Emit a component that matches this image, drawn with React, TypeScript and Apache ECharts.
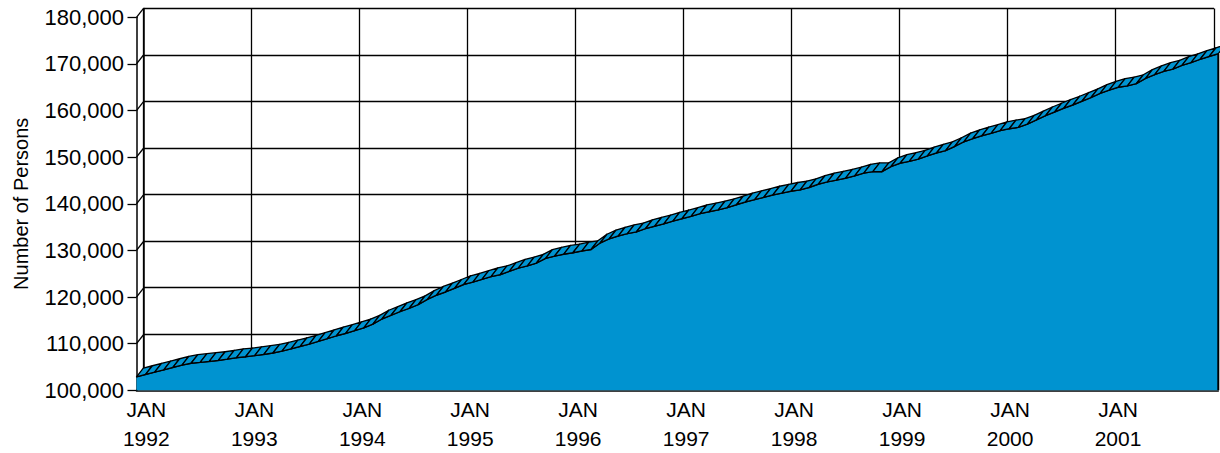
import React, { useEffect, useRef } from "react";
import * as echarts from "echarts";

// Monthly values, Jan 1992 .. Dec 2001 (number of persons)
const months: string[] = [];
for (let y = 1992; y <= 2001; y++) {
  for (let m = 1; m <= 12; m++) months.push(`${y}-${m < 10 ? "0" + m : m}`);
}

const values1992 = [102900, 103400, 103900, 104400, 104900, 105400, 105800, 106000, 106200, 106400, 106700, 107000];
const values1993 = [107200, 107450, 107700, 108000, 108400, 108900, 109400, 109900, 110500, 111100, 111700, 112200];
const values1994 = [112800, 113400, 114200, 115300, 116100, 116900, 117600, 118400, 119500, 120400, 121100, 121900];
const values1995 = [122700, 123200, 123800, 124400, 124800, 125500, 126200, 126700, 127300, 128300, 128800, 129200];
const values1996 = [129500, 129900, 130200, 131600, 132500, 133100, 133600, 134000, 134700, 135200, 135700, 136300];
const values1997 = [136800, 137300, 137900, 138300, 138700, 139200, 139800, 140400, 140900, 141400, 141900, 142300];
const values1998 = [142700, 143000, 143500, 144200, 144700, 145100, 145500, 146000, 146600, 146900, 146900, 148000];
const values1999 = [148700, 149100, 149600, 150300, 150900, 151400, 152300, 153300, 154000, 154600, 155100, 155700];
const values2000 = [156100, 156400, 157100, 158000, 158900, 159700, 160500, 161200, 162000, 162800, 163700, 164400];
const values2001 = [165000, 165300, 165800, 166900, 167700, 168400, 168900, 169700, 170300, 171000, 171600, 172200];

const persons: number[] = [
  ...values1992, ...values1993, ...values1994, ...values1995, ...values1996,
  ...values1997, ...values1998, ...values1999, ...values2000, ...values2001,
];

const yTicks = [100000, 110000, 120000, 130000, 140000, 150000, 160000, 170000, 180000];
const yearLabels = ["1992", "1993", "1994", "1995", "1996", "1997", "1998", "1999", "2000", "2001"];

const Y_MIN = 100000;
const Y_MAX = 180000;
const Y_STEP = 10000;

// layout / style constants
const BLUE = "#0093D0";
const DX = 6.8; // depth offset (px)
const DY = -8.7;
const FRONT_LEFT = 136.5;
const FRONT_TOP = 17.3;
const PLOT_W = 1081.8;
const PLOT_H = 373;
const FONT = "'Liberation Sans', Arial, Helvetica, sans-serif";

const fmt = (v: number) => String(v).replace(/\B(?=(\d{3})+(?!\d))/g, ",");

export default function App() {
  const ref = useRef<HTMLDivElement>(null);

  useEffect(() => {
    if (!ref.current) return;
    const chart = echarts.init(ref.current, null, { renderer: "svg" });
    const last = persons.length - 1;

    const areaData = persons.map((v, i) => [i, v]);
    const ribbonData = persons.slice(0, last).map((v, i) => [i, v, persons[i + 1]]);
    const connectorData = yTicks.map((v) => [0, v]);

    const option: echarts.EChartsOption = {
      animation: false,
      backgroundColor: "#fff",
      grid: [
        { left: FRONT_LEFT, top: FRONT_TOP, width: PLOT_W, height: PLOT_H, containLabel: false },
        { left: FRONT_LEFT + DX, top: FRONT_TOP + DY, width: PLOT_W, height: PLOT_H, containLabel: false },
      ],
      xAxis: [
        {
          gridIndex: 0,
          type: "value",
          min: 0,
          max: last,
          interval: 12,
          axisLine: { show: true, lineStyle: { color: "#000", width: 1.5 } },
          axisTick: { show: false },
          axisLabel: { show: false },
          splitLine: { show: false },
        },
        {
          gridIndex: 1,
          type: "value",
          min: 0,
          max: last,
          interval: 12,
          axisLine: { show: false },
          axisTick: { show: false },
          splitLine: { show: true, lineStyle: { color: "#000", width: 1.3 } },
          axisLabel: {
            show: true,
            margin: 14.7,
            fontFamily: FONT,
            fontSize: 21,
            color: "#000",
            lineHeight: 29,
            align: "center",
            padding: [0, 0, 0, 6],
            formatter: (v: number) => {
              if (v % 12 !== 0) return "";
              const y = yearLabels[v / 12];
              return y ? `JAN\n${y}` : "";
            },
          },
        },
      ],
      yAxis: [
        {
          gridIndex: 0,
          type: "value",
          min: Y_MIN,
          max: Y_MAX,
          interval: Y_STEP,
          name: "Number of Persons",
          nameLocation: "middle",
          nameGap: 106,
          nameTextStyle: { fontFamily: FONT, fontSize: 20, color: "#000" },
          axisLine: { show: true, lineStyle: { color: "#000", width: 1.5 } },
          axisTick: { show: true, length: 9, inside: false, lineStyle: { color: "#000", width: 1.3 } },
          axisLabel: {
            show: true,
            margin: 12.5,
            fontFamily: FONT,
            fontSize: 22,
            color: "#000",
            padding: [8, 0, 0, 0],
            formatter: (v: number) => fmt(v),
          },
          splitLine: { show: false },
        },
        {
          gridIndex: 1,
          type: "value",
          min: Y_MIN,
          max: Y_MAX,
          interval: Y_STEP,
          axisLine: { show: true, lineStyle: { color: "#000", width: 1.5 } },
          axisTick: { show: false },
          axisLabel: { show: false },
          splitLine: { show: true, lineStyle: { color: "#000", width: 1.3 } },
        },
      ],
      series: [
        {
          name: "front",
          type: "line",
          xAxisIndex: 0,
          yAxisIndex: 0,
          data: areaData,
          symbol: "none",
          lineStyle: { color: "#000", width: 1.5 },
          areaStyle: { color: BLUE, opacity: 1, origin: "start" },
          z: 3,
          silent: true,
        },
        {
          name: "ribbon",
          type: "custom",
          xAxisIndex: 0,
          yAxisIndex: 0,
          clip: false,
          z: 4,
          silent: true,
          data: ribbonData,
          encode: { x: 0, y: 1 },
          renderItem: (params: any, api: any) => {
            const i = api.value(0);
            const p0 = api.coord([i, api.value(1)]);
            const p1 = api.coord([i + 1, api.value(2)]);
            const poly = {
              type: "polygon",
              shape: {
                points: [p0, p1, [p1[0] + DX, p1[1] + DY], [p0[0] + DX, p0[1] + DY]],
              },
              style: { fill: BLUE, stroke: "#000", lineWidth: 1.3, lineJoin: "round" },
            };
            if (i + 1 === last) {
              const base = api.coord([i + 1, Y_MIN]);
              return {
                type: "group",
                children: [
                  poly,
                  {
                    type: "line",
                    shape: { x1: p1[0], y1: p1[1], x2: base[0], y2: base[1] },
                    style: { stroke: "#000", lineWidth: 2 },
                  },
                ],
              };
            }
            return poly;
          },
        },
        {
          name: "connectors",
          type: "custom",
          xAxisIndex: 0,
          yAxisIndex: 0,
          clip: false,
          z: 1,
          silent: true,
          data: connectorData,
          encode: { x: 0, y: 1 },
          renderItem: (params: any, api: any) => {
            const p = api.coord([api.value(0), api.value(1)]);
            return {
              type: "line",
              shape: { x1: p[0], y1: p[1], x2: p[0] + DX, y2: p[1] + DY },
              style: { stroke: "#000", lineWidth: 1.3 },
            };
          },
        },
      ],
    };

    chart.setOption(option);
    return () => chart.dispose();
  }, []);

  return (
    <div
      ref={ref}
      style={{ position: "absolute", left: 0, top: 0, width: 1220, height: 453 }}
    />
  );
}
